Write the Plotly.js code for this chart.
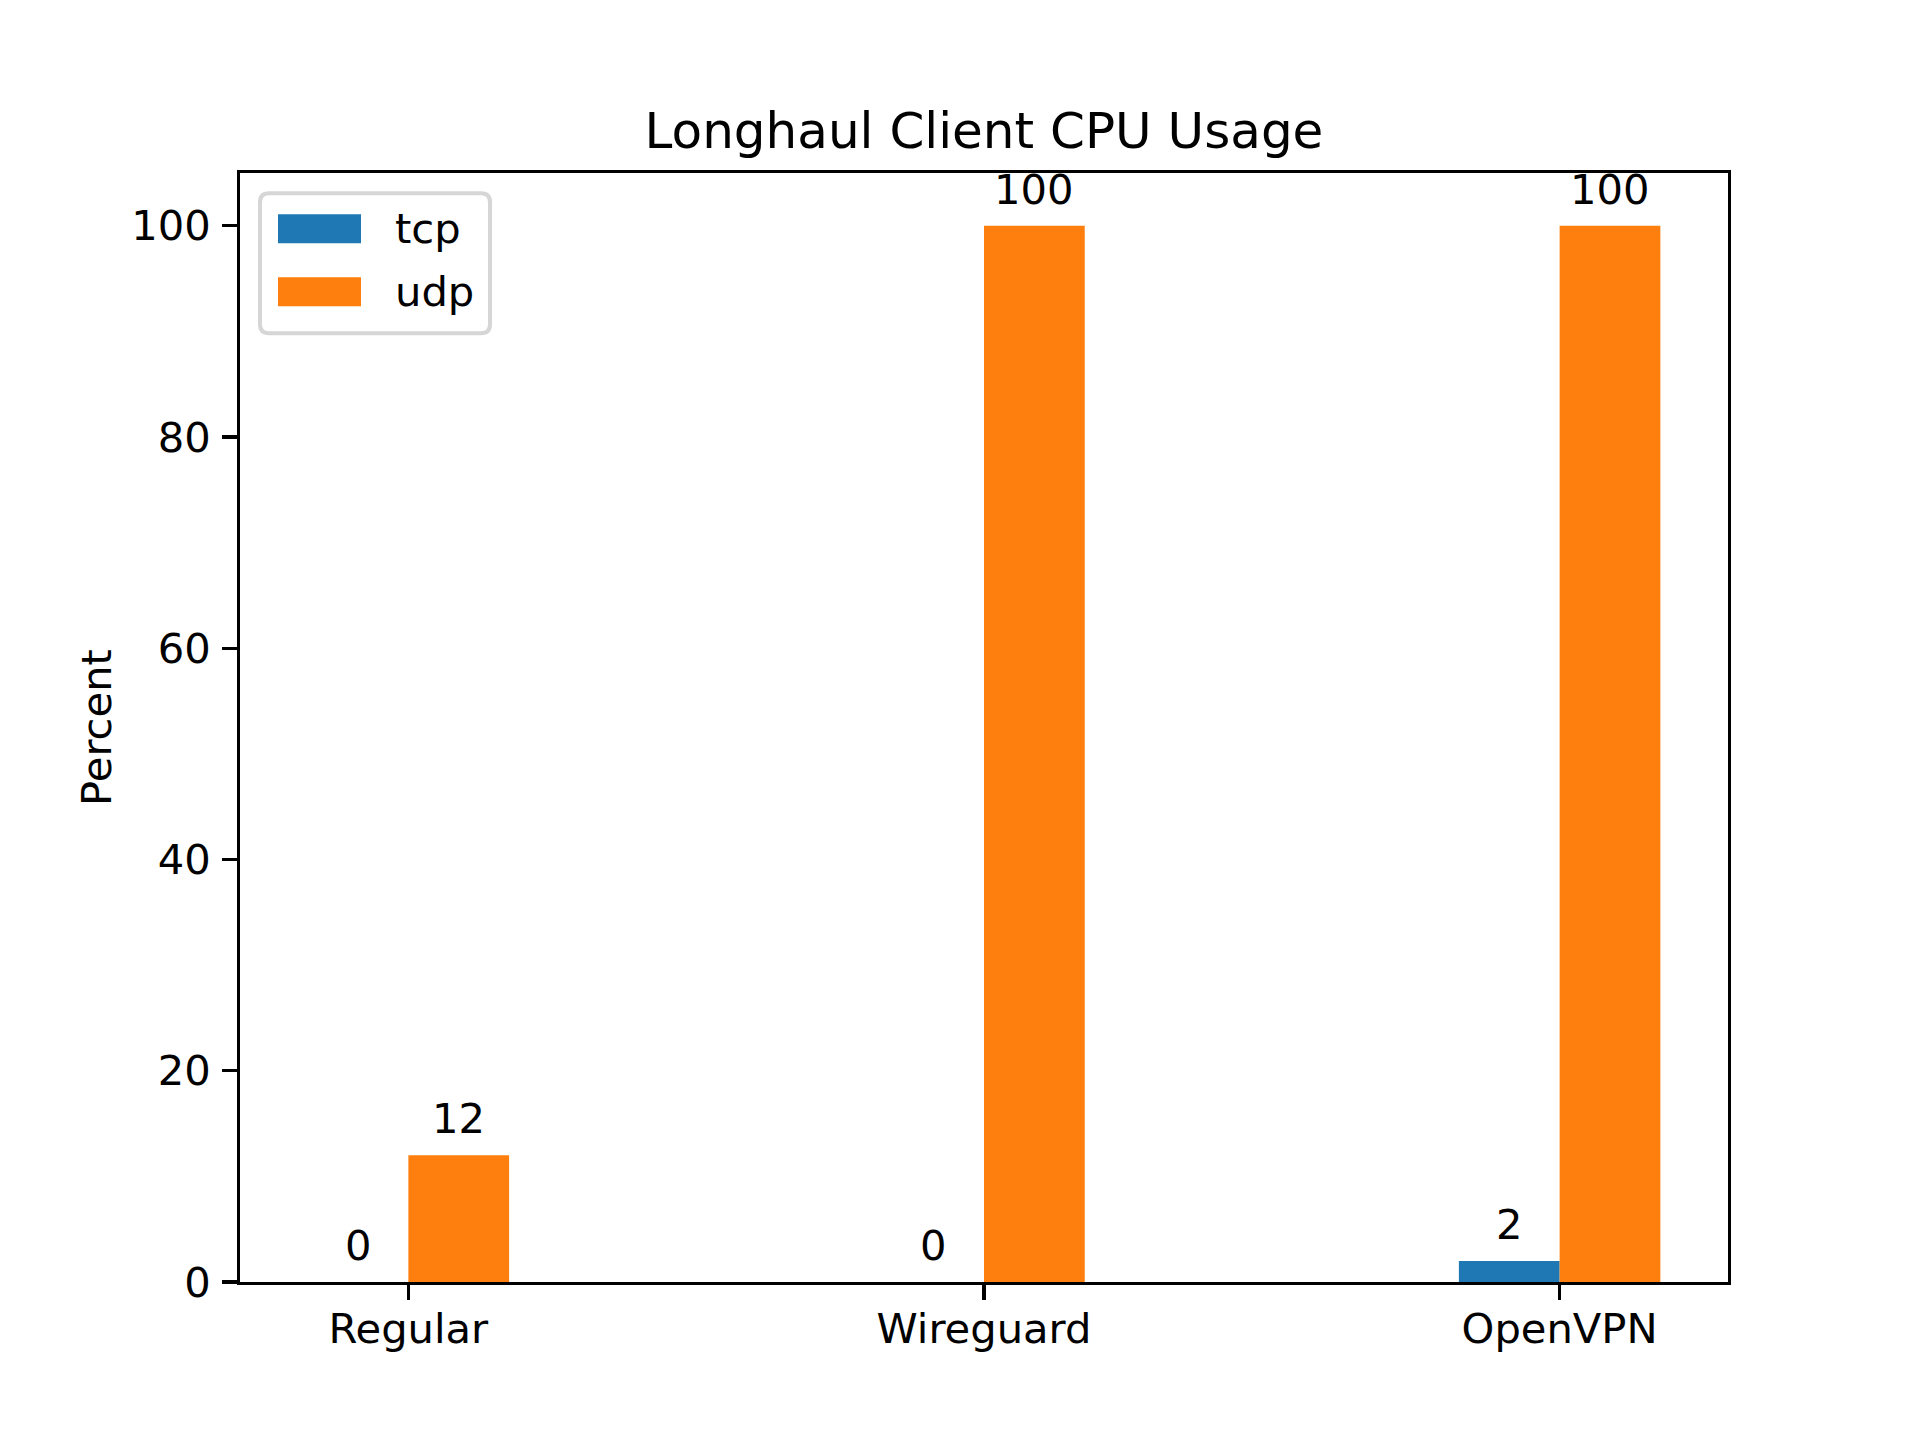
<!DOCTYPE html>
<html>
<head>
<meta charset="utf-8">
<script src="https://cdn.plot.ly/plotly-3.0.1.min.js"></script>
<style>html,body{margin:0;padding:0;background:#fff;}#chart{width:1920px;height:1440px;}</style>
</head>
<body>
<div id="chart"></div>
<script>
const categories = ["Regular", "Wireguard", "OpenVPN"];
const tcpValues = [0, 0, 2];
const udpValues = [12, 100, 100];
const seriesNames = ["tcp", "udp"];
const seriesColors = ["#1f77b4", "#ff7f0e"];
const yTickValues = [0, 20, 40, 60, 80, 100];
const chartTitle = "Longhaul Client CPU Usage";
const yAxisLabel = "Percent";

const W = 1920, H = 1440;
const L = 240, R = 1728, T = 172.8, B = 1281.6;
const PW = R - L, PH = B - T;
const FS = 41.67;
const BW = 0.175;
const FONT = "DejaVu Sans, Liberation Sans, sans-serif";

const seriesValues = [tcpValues, udpValues];
const offsets = [-BW, 0];

const traces = seriesValues.map((vals, s) => ({
  type: "bar",
  name: seriesNames[s],
  x: categories,
  y: vals,
  width: BW,
  offset: offsets[s],
  marker: {color: seriesColors[s], line: {width: 0}},
  showlegend: false,
  hoverinfo: "skip"
}));

const annotations = [];
seriesValues.forEach((vals, s) => {
  vals.forEach((v, i) => {
    annotations.push({
      x: i + offsets[s] + BW / 2, y: v, xref: "x", yref: "y",
      text: String(v), showarrow: false, yanchor: "bottom", xanchor: "center",
      yshift: 10, font: {family: FONT, size: FS, color: "#000"}
    });
  });
});

// custom matplotlib-style legend
const px = x => (x - L) / PW;
const py = y => (B - y) / PH;
const shapes = [];
(function () {
  const x0 = 260, x1 = 490, y0 = 193, y1 = 333, r = 9;
  const path = [
    `M${px(x0 + r)},${py(y0)}`,
    `L${px(x1 - r)},${py(y0)}`,
    `Q${px(x1)},${py(y0)} ${px(x1)},${py(y0 + r)}`,
    `L${px(x1)},${py(y1 - r)}`,
    `Q${px(x1)},${py(y1)} ${px(x1 - r)},${py(y1)}`,
    `L${px(x0 + r)},${py(y1)}`,
    `Q${px(x0)},${py(y1)} ${px(x0)},${py(y1 - r)}`,
    `L${px(x0)},${py(y0 + r)}`,
    `Q${px(x0)},${py(y0)} ${px(x0 + r)},${py(y0)}`,
    "Z"
  ].join(" ");
  shapes.push({type: "path", xref: "paper", yref: "paper", path: path,
    fillcolor: "rgba(255,255,255,0.8)", line: {color: "#d6d6d6", width: 4}, layer: "above"});
  seriesNames.forEach((name, s) => {
    const cy = 228.5 + s * 63;
    shapes.push({type: "rect", xref: "paper", yref: "paper",
      x0: px(278), x1: px(361), y0: py(cy - 14.5), y1: py(cy + 14.5),
      fillcolor: seriesColors[s], line: {width: 0}, layer: "above"});
    annotations.push({xref: "paper", yref: "paper", x: px(393), y: py(cy),
      xanchor: "left", yanchor: "middle", text: name, showarrow: false,
      font: {family: FONT, size: FS, color: "#000"}});
  });
})();

const layout = {
  width: W, height: H,
  paper_bgcolor: "#fff", plot_bgcolor: "#fff",
  margin: {l: L, r: W - R, t: T, b: H - B, pad: 0, autoexpand: false},
  font: {family: FONT, size: FS, color: "#000"},
  title: {text: chartTitle, font: {family: FONT, size: 50, color: "#000"},
    x: (L + R) / 2 / W, xanchor: "center", xref: "container",
    y: 1 - (T - 25) / H, yanchor: "bottom", yref: "container", pad: {t: 0, b: 0}},
  barmode: "overlay",
  xaxis: {
    type: "category", range: [-0.2925, 2.2925], autorange: false,
    showline: true, linecolor: "#000", linewidth: 3.33, mirror: true,
    ticks: "outside", ticklen: 14.6, tickwidth: 3.33, tickcolor: "#000",
    showgrid: false, zeroline: false, ticklabelstandoff: -7,
    tickfont: {family: FONT, size: FS, color: "#000"}
  },
  yaxis: {
    range: [0, 105], autorange: false,
    tickvals: yTickValues, ticktext: yTickValues.map(String),
    showline: true, linecolor: "#000", linewidth: 3.33, mirror: true,
    ticks: "outside", ticklen: 14.6, tickwidth: 3.33, tickcolor: "#000",
    showgrid: false, zeroline: false, ticklabelstandoff: 3,
    tickfont: {family: FONT, size: FS, color: "#000"},
    title: {text: yAxisLabel, font: {family: FONT, size: FS, color: "#000"}, standoff: 7}
  },
  shapes: shapes,
  annotations: annotations
};

Plotly.newPlot("chart", traces, layout, {staticPlot: true, displayModeBar: false});
</script>
</body>
</html>
